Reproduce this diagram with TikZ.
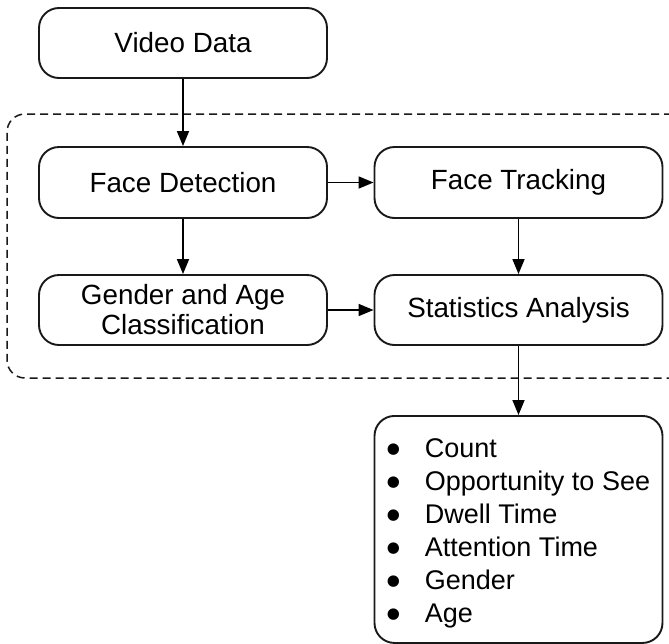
\documentclass[tikz,border=0pt]{standalone}
\usepackage{fontspec}
\setmainfont{Liberation Sans}
\newfontfamily\dejavu{DejaVu Sans}
\usetikzlibrary{arrows.meta}
\newcommand{\bigbul}{\makebox[38pt][l]{\raisebox{4.5pt}{\dejavu\fontsize{15}{33}\selectfont ●}}}
\begin{document}
\begin{tikzpicture}[x=1pt,y=1pt,
  font=\fontsize{27.8}{33}\selectfont,
  box/.style={draw=black!90, line width=1.9pt, rounded corners=20pt, minimum width=288pt, minimum height=70pt, inner sep=0pt, align=center, text=black},
  group/.style={draw=black!90, line width=1.5pt, rounded corners=18pt, dash pattern=on 8pt off 5pt, inner sep=0pt},
  arr/.style={draw=black, line width=1.7pt, -{Triangle[length=15pt,width=12pt]}}]
\useasboundingbox (0,0) rectangle (669,-643);
\clip (0,0) rectangle (669,-643);
\node[group, minimum width=683pt, minimum height=264pt] (grp) at (348.5,-246) {};
\node[box] (video) at (183,-43) {Video Data};
\node[box, minimum height=71pt] (fd) at (183,-182.5) {Face Detection};
\node[box, minimum height=71pt] (ft) at (518.5,-182.5) {Face Tracking};
\node[box] (ga) at (183,-310) {Gender and Age\\[-3pt]Classification};
\node[box] (sa) at (518.5,-310) {Statistics Analysis};
\node[box, minimum height=227pt, anchor=north, font=\fontsize{27}{33}\selectfont] (out) at (518.5,-415) {%
  \begin{tabular}{@{}l@{}l@{}}
  \bigbul & Count\rule{0pt}{31pt}\\
  \bigbul & Opportunity to See\\
  \bigbul & Dwell Time\\
  \bigbul & Attention Time\\
  \bigbul & Gender\\
  \bigbul & Age
  \end{tabular}};
\draw[arr] (video) -- (fd);
\draw[arr] (fd) -- (ft);
\draw[arr] (fd) -- (ga);
\draw[arr] (ft) -- (sa);
\draw[arr] (ga) -- (sa);
\draw[arr] (sa) -- (out);
\end{tikzpicture}
\end{document}
